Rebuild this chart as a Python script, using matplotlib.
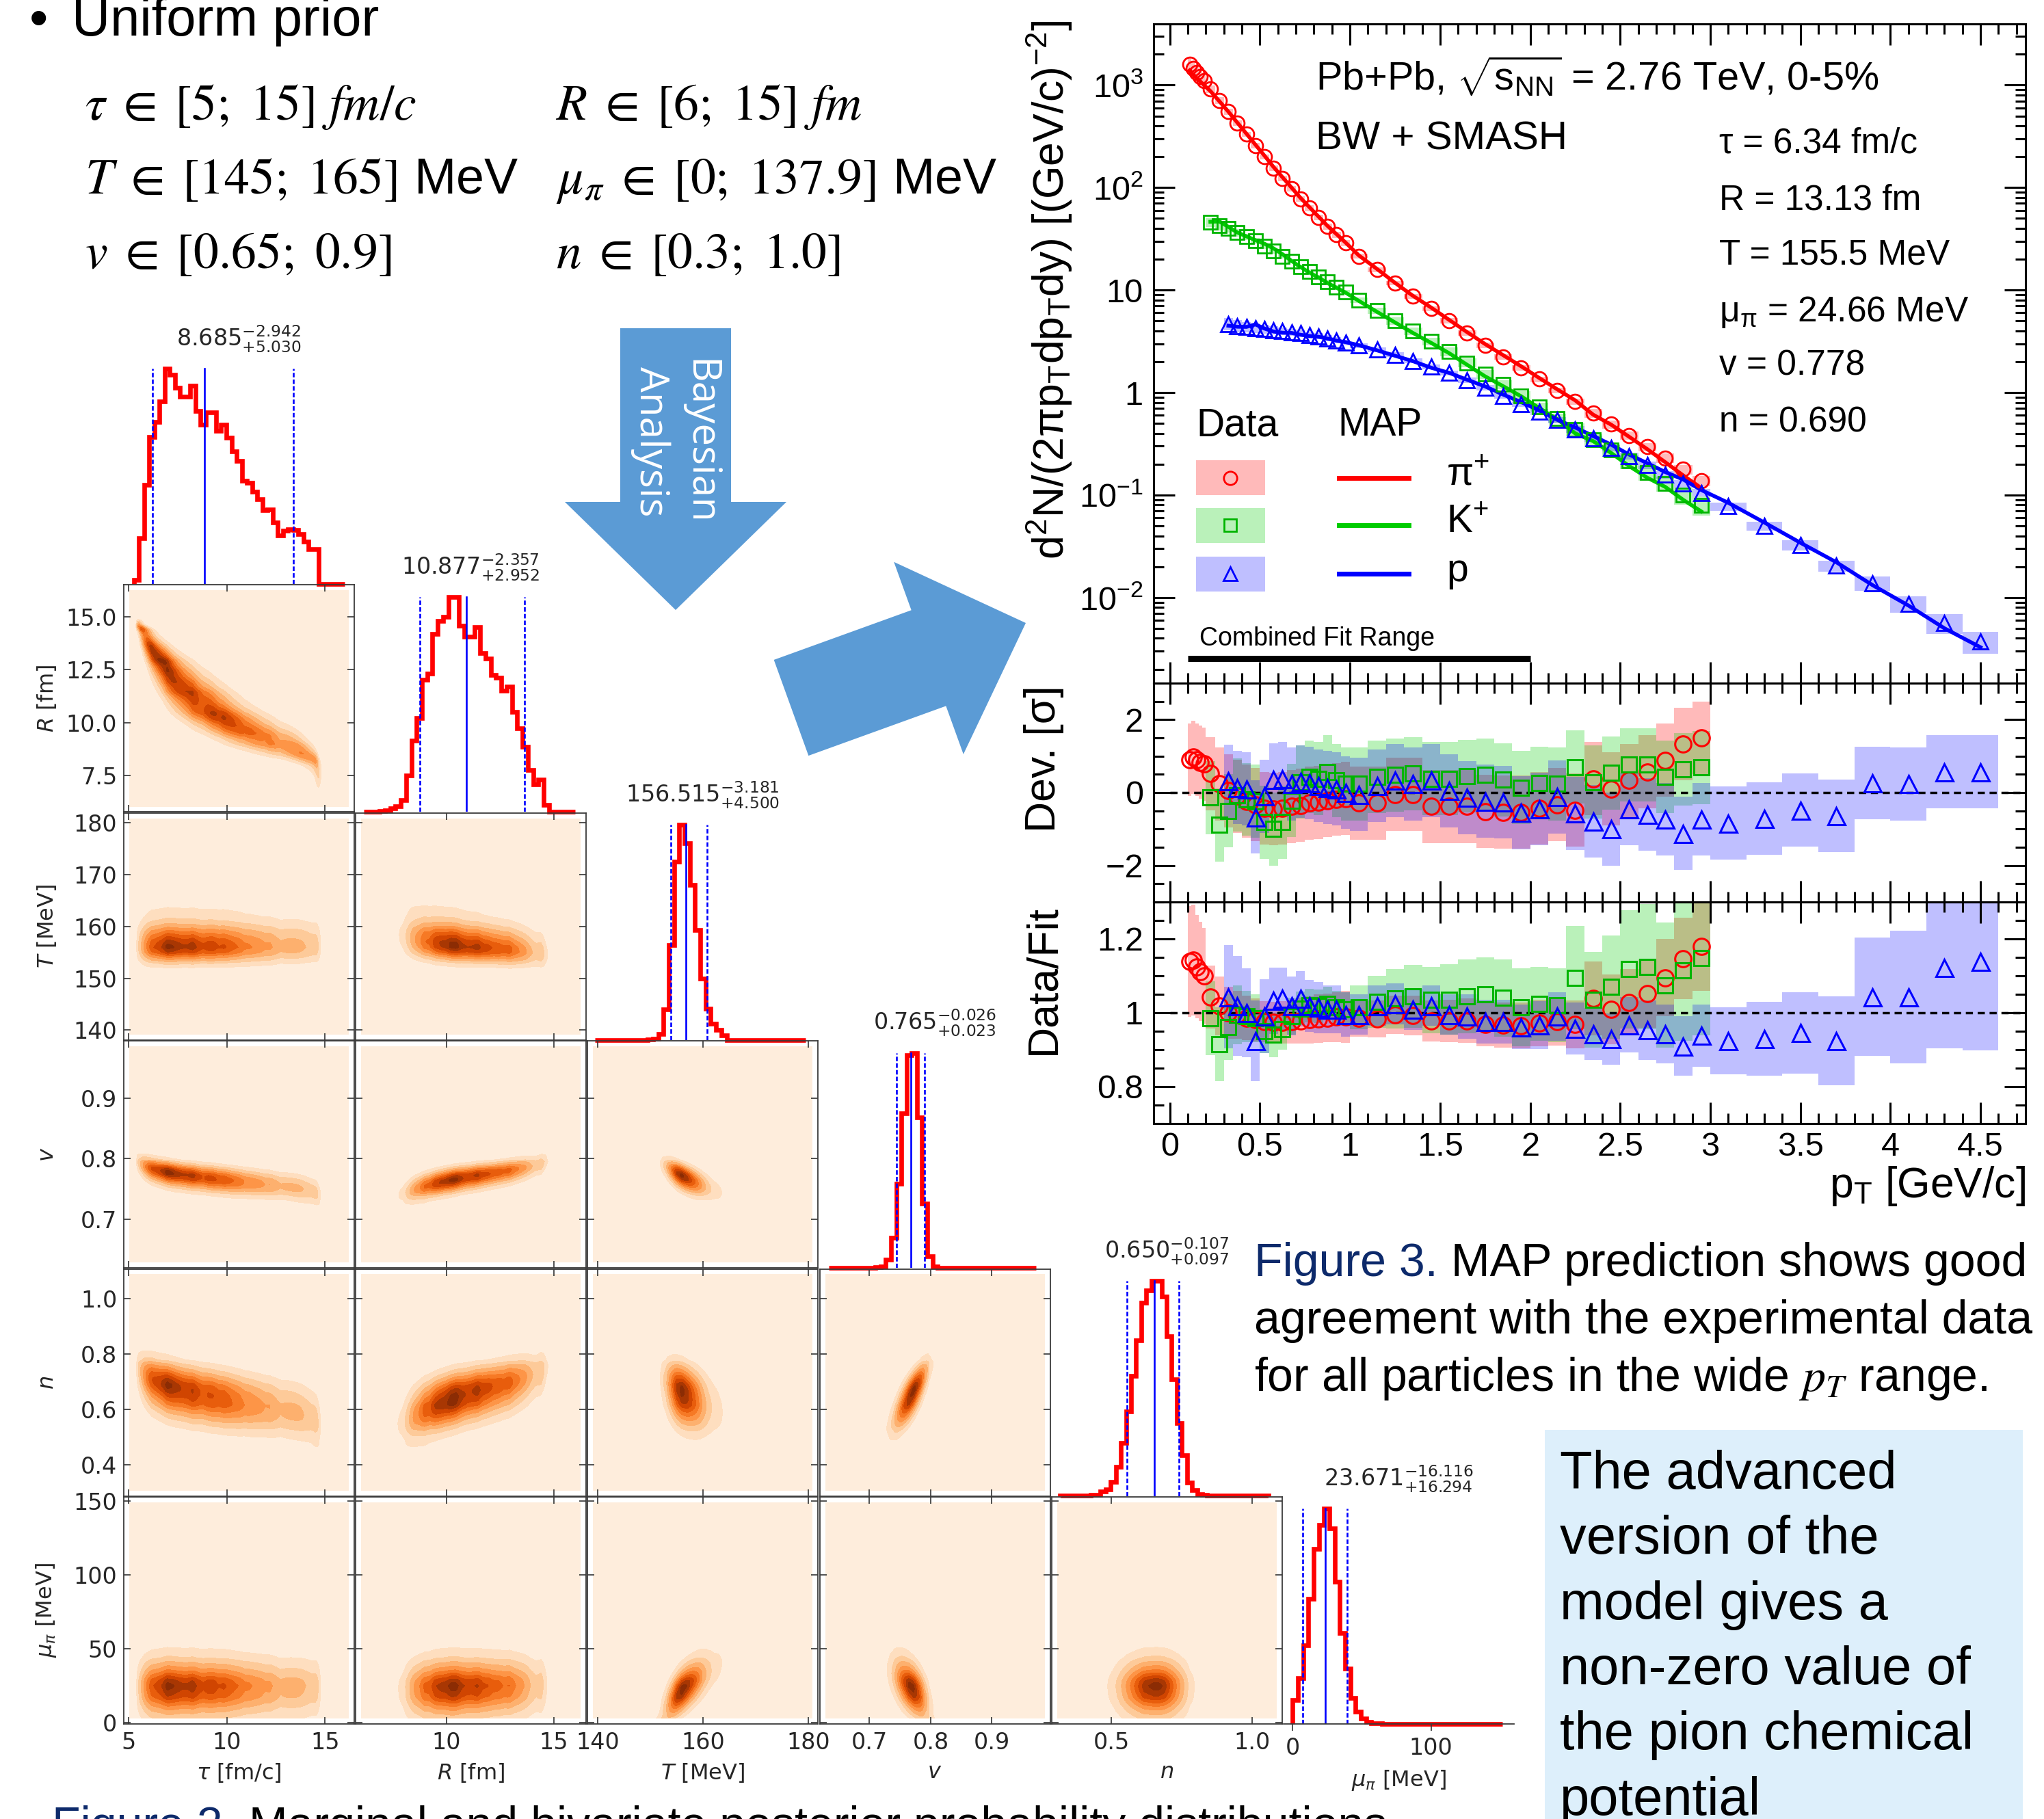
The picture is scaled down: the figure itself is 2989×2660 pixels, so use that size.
import numpy as np
import matplotlib.pyplot as plt
from matplotlib.patches import Rectangle, FancyArrow
from matplotlib.ticker import MultipleLocator, LogLocator, NullFormatter, FuncFormatter

W, H = 2989, 2660
plt.rcParams['font.family'] = ['Liberation Sans', 'DejaVu Sans']
plt.rcParams['mathtext.fontset'] = 'custom'
plt.rcParams['mathtext.rm'] = 'Liberation Sans'
plt.rcParams['mathtext.it'] = 'Liberation Sans:italic'
plt.rcParams['mathtext.bf'] = 'Liberation Sans:bold'
plt.rcParams['mathtext.sf'] = 'Liberation Sans'

# ---------------- corner plot (posterior) data ----------------
par_labels = [r'$\tau$ [fm/c]', r'$R$ [fm]', r'$T$ [MeV]', r'$v$', r'$n$', r'$\mu_\pi$ [MeV]']
hist_lo = [5.25, 6.15, 139.5, 0.634, 0.3167, 0.0]
hist_hi = [16.0, 16.0, 179.5, 0.972, 1.058, 151.8]
tau_hist = [12, 132, 285, 422, 464, 524, 617, 600, 562, 537, 537, 569, 497, 457, 492, 492,
            440, 457, 419, 380, 352, 297, 290, 264, 244, 212, 214, 177, 140, 152, 157, 154,
            144, 122, 100, 100, 0, 0, 0, 0, 0]
R_hist = [0, 0, 0, 3, 5, 10, 17, 35, 105, 205, 270, 380, 397, 510, 547, 560, 617, 617, 535, 503,
          503, 530, 455, 440, 392, 385, 347, 360, 287, 240, 187, 120, 80, 93, 20, 0, 0, 0, 0, 0]
T_hist = [0, 0, 0, 0, 0, 0, 0, 0, 0, 0, 2, 5, 25, 135, 415, 780, 942, 862, 680, 480,
          270, 138, 70, 45, 20, 0, 0, 0, 0, 0, 0, 0, 0, 0, 0, 0, 0, 0, 0, 0]
v_hist = [0, 0, 0, 0, 0, 0, 0, 1, 1, 3, 8, 38, 133, 370, 680, 936, 946, 663, 283, 53,
          8, 0, 0, 0, 0, 0, 0, 0, 0, 0, 0, 0, 0, 0, 0, 0, 0, 0, 0, 0]
n_hist = [2, 2, 2, 2, 2, 2, 4, 4, 20, 30, 62, 127, 234, 372, 527, 684, 850, 904, 947, 947,
          877, 704, 512, 322, 180, 60, 27, 9, 4, 2, 2, 2, 2, 2, 2, 2, 2, 2, 2, 2, 2]
mu_hist = [105, 200, 345, 550, 770, 875, 945, 860, 625, 400, 242, 115, 55, 25, 10, 4, 2, 1, 0, 0,
           0, 0, 0, 0, 0, 0, 0, 0, 0, 0, 0, 0, 0, 0, 0, 0, 0, 0, 0, 0]
hists = [tau_hist, R_hist, T_hist, v_hist, n_hist, mu_hist]
quantiles = [[6.19, 8.86, 13.4], [8.76, 10.94, 13.63], [153.9, 156.7, 160.85],
             [0.7449, 0.7682, 0.790], [0.5555, 0.6527, 0.740], [7.4, 23.5, 39.6]]
titles = [r'$8.685_{+5.030}^{-2.942}$', r'$10.877_{+2.952}^{-2.357}$', r'$156.515_{+4.500}^{-3.181}$',
          r'$0.765_{+0.023}^{-0.026}$', r'$0.650_{+0.097}^{-0.107}$', r'$23.671_{+16.294}^{-16.116}$']
# correlations in normal-score space, order tau, R, T, v, n, mu
corr = [[1.00, -0.93, 0.00, -0.65, -0.55, 0.00],
        [-0.93, 1.00, -0.30, 0.70, 0.60, 0.05],
        [0.00, -0.30, 1.00, -0.65, -0.35, 0.65],
        [-0.65, 0.70, -0.65, 1.00, 0.78, -0.50],
        [-0.55, 0.60, -0.35, 0.78, 1.00, 0.00],
        [0.00, 0.05, 0.65, -0.50, 0.00, 1.00]]
lims = [(4.74, 16.49), (5.78, 16.5), (138.1, 181.9), (0.619, 0.995), (0.287, 1.107), (-1.0, 152.6)]
mu_hist_xlim = (-6.6, 160)
xticks = [[5, 10, 15], [10, 15], [140, 160, 180], [0.7, 0.8, 0.9], [0.5, 1.0], [0, 100]]
xticklabels = [['5', '10', '15'], ['10', '15'], ['140', '160', '180'], ['0.7', '0.8', '0.9'],
               ['0.5', '1.0'], ['0', '100']]
yticks = [[], [7.5, 10, 12.5, 15], [140, 150, 160, 170, 180], [0.7, 0.8, 0.9],
          [0.4, 0.6, 0.8, 1.0], [0, 50, 100, 150]]
yticklabels = [[], ['7.5', '10.0', '12.5', '15.0'], ['140', '150', '160', '170', '180'],
               ['0.7', '0.8', '0.9'], ['0.4', '0.6', '0.8', '1.0'], ['0', '50', '100', '150']]

# ---------------- spectra data (Pb+Pb 2.76 TeV, 0-5%) ----------------
pt_edges = [0.10, 0.12, 0.14, 0.16, 0.18, 0.20, 0.25, 0.30, 0.35, 0.40, 0.45, 0.50, 0.55, 0.60,
            0.65, 0.70, 0.75, 0.80, 0.85, 0.90, 0.95, 1.0, 1.1, 1.2, 1.3, 1.4, 1.5, 1.6, 1.7, 1.8,
            1.9, 2.0, 2.1, 2.2, 2.3, 2.4, 2.5, 2.6, 2.7, 2.8, 2.9, 3.0, 3.2, 3.4, 3.6, 3.8, 4.0,
            4.2, 4.4, 4.6]
pi_yield = [1585, 1445, 1318, 1202, 1096, 912, 708, 550, 427, 331, 257, 200, 155, 123, 97.7, 77.6,
            63.1, 51.3, 41.7, 34.7, 28.8, 21.4, 15.8, 11.7, 8.71, 6.61, 5.01, 3.80, 2.88, 2.24,
            1.74, 1.35, 1.05, 0.813, 0.631, 0.490, 0.380, 0.295, 0.229, 0.178, 0.138]
pi_ratio = [1.139, 1.142, 1.125, 1.112, 1.10, 1.043, 1.019, 1.0, 0.995, 0.986, 0.981, 0.976, 0.974,
            0.974, 0.976, 0.978, 0.981, 0.984, 0.986, 0.988, 0.989, 0.986, 0.984, 0.995, 0.993,
            0.978, 0.978, 0.978, 0.969, 0.967, 0.965, 0.972, 0.976, 0.969, 1.038, 1.009, 1.028,
            1.052, 1.095, 1.147, 1.18]
pi_dev = [0.90, 0.97, 0.90, 0.83, 0.78, 0.52, 0.24, 0.05, -0.10, -0.24, -0.33, -0.43, -0.45, -0.43,
          -0.38, -0.35, -0.29, -0.27, -0.22, -0.19, -0.16, -0.29, -0.29, -0.05, -0.05, -0.38, -0.38,
          -0.38, -0.52, -0.54, -0.54, -0.43, -0.33, -0.48, 0.38, 0.10, 0.33, 0.57, 0.89, 1.33, 1.50]
pi_err = [0.15, 0.15, 0.14, 0.135, 0.13, 0.085, 0.08, 0.07, 0.065, 0.06, 0.058, 0.056, 0.056, 0.058,
          0.06, 0.062, 0.064, 0.066, 0.066, 0.068, 0.07, 0.05, 0.05, 0.052, 0.054, 0.056, 0.058,
          0.06, 0.06, 0.061, 0.062, 0.063, 0.064, 0.065, 0.10, 0.095, 0.09, 0.092, 0.105, 0.11, 0.12]
k_yield = [45.7, 42.7, 39.8, 36.3, 33.1, 30.2, 26.9, 24.0, 21.4, 19.1, 17.0, 15.1, 13.5, 12.0, 10.7,
           9.55, 7.94, 6.31, 5.01, 3.98, 3.16, 2.51, 1.95, 1.51, 1.20, 0.933, 0.724, 0.562, 0.437,
           0.347, 0.275, 0.214, 0.166, 0.129, 0.100, 0.0794]
k_ratio = [0.985, 0.915, 0.962, 0.995, 0.99, 0.985, 0.95, 0.94, 0.955, 0.99, 1.012, 1.02, 1.018,
           1.025, 1.015, 1.01, 1.015, 1.03, 1.038, 1.045, 1.035, 1.036, 1.045, 1.05, 1.04, 1.015,
           1.025, 1.02, 1.095, 1.035, 1.07, 1.118, 1.125, 1.075, 1.115, 1.148]
k_dev = [-0.14, -0.89, -0.50, -0.07, -0.19, -0.24, -0.81, -1.0, -0.81, -0.22, 0.29, 0.43, 0.38, 0.57,
         0.33, 0.24, 0.24, 0.43, 0.48, 0.52, 0.38, 0.38, 0.45, 0.48, 0.35, 0.14, 0.26, 0.24, 0.70,
         0.29, 0.54, 0.76, 0.76, 0.43, 0.64, 0.69]
k_err = [0.10, 0.10, 0.09, 0.08, 0.07, 0.065, 0.06, 0.06, 0.055, 0.05, 0.045, 0.045, 0.045, 0.045,
         0.045, 0.045, 0.06, 0.07, 0.08, 0.085, 0.09, 0.095, 0.10, 0.10, 0.105, 0.105, 0.10, 0.10,
         0.14, 0.13, 0.14, 0.16, 0.17, 0.17, 0.19, 0.21]
p_yield = [4.68, 4.47, 4.37, 4.27, 4.17, 4.07, 3.98, 3.89, 3.80, 3.63, 3.55, 3.39, 3.24, 3.09, 2.88,
           2.63, 2.34, 2.04, 1.78, 1.55, 1.32, 1.12, 0.933, 0.776, 0.646, 0.537, 0.437, 0.355,
           0.288, 0.240, 0.195, 0.158, 0.129, 0.105, 0.0776, 0.0501, 0.0324, 0.0204, 0.0138,
           0.00871, 0.00562, 0.00372]
p_ratio = [1.043, 1.019, 1.0, 0.924, 0.99, 1.033, 1.038, 1.019, 1.038, 1.019, 1.014, 1.009, 1.009,
           0.995, 0.995, 1.019, 1.024, 1.009, 1.019, 0.995, 0.99, 0.976, 0.976, 0.962, 0.967, 0.99,
           0.957, 0.943, 0.929, 0.967, 0.953, 0.943, 0.91, 0.938, 0.924, 0.929, 0.946, 0.924,
           1.043, 1.043, 1.123, 1.138]
p_dev = [0.31, 0.14, 0.10, -0.67, -0.10, 0.35, 0.38, 0.24, 0.30, 0.26, 0.19, 0.14, 0.10, 0.0, -0.05,
         0.19, 0.33, 0.24, 0.33, 0.05, -0.14, -0.24, -0.26, -0.55, -0.45, -0.12, -0.57, -0.79, -1.0,
         -0.45, -0.60, -0.73, -1.12, -0.73, -0.84, -0.71, -0.48, -0.64, 0.26, 0.24, 0.57, 0.57]
p_err = [0.14, 0.135, 0.12, 0.11, 0.10, 0.09, 0.085, 0.08, 0.075, 0.07, 0.07, 0.065, 0.065, 0.06,
         0.055, 0.055, 0.055, 0.055, 0.055, 0.055, 0.06, 0.06, 0.06, 0.06, 0.065, 0.065, 0.07, 0.07,
         0.07, 0.075, 0.08, 0.08, 0.08, 0.085, 0.09, 0.10, 0.11, 0.12, 0.16, 0.18, 0.22, 0.24]
fit_range = [0.1, 2.0]
map_params = ['τ = 6.34 fm/c', 'R = 13.13 fm', 'T = 155.5 MeV',
              r'$\mathrm{\mu}_{\mathrm{\pi}}$ = 24.66 MeV', 'v = 0.778', 'n = 0.690']

fig = plt.figure(figsize=(W / 100, H / 100), dpi=100)
ov = fig.add_axes([0, 0, 1, 1])
ov.set_xlim(0, W)
ov.set_ylim(H, 0)
ov.axis('off')
ov.set_zorder(-5)


def axes_px(x0, y0, x1, y1):
    a = fig.add_axes([x0 / W, 1 - y1 / H, (x1 - x0) / W, (y1 - y0) / H])
    a.patch.set_visible(False)
    return a


# ---------------- corner plot ----------------
zz = np.linspace(-5, 5, 2001)
phi_cdf = np.cumsum(np.exp(-0.5 * zz ** 2))
phi_cdf = phi_cdf / phi_cdf[-1]


def marginal(k, g):
    e = np.linspace(hist_lo[k], hist_hi[k], len(hists[k]) + 1)
    c = 0.5 * (e[1:] + e[:-1])
    return np.interp(g, c, hists[k], left=0, right=0)


def density(kx, ky, gx, gy):
    fx = marginal(kx, gx)
    fy = marginal(ky, gy)
    ux = np.clip((np.cumsum(fx) - 0.5 * fx) / fx.sum(), 1e-3, 1 - 1e-3)
    uy = np.clip((np.cumsum(fy) - 0.5 * fy) / fy.sum(), 1e-3, 1 - 1e-3)
    a = np.interp(ux, phi_cdf, zz)
    b = np.interp(uy, phi_cdf, zz)
    r = corr[kx][ky]
    A, B = np.meshgrid(a, b)
    c = np.exp(-(r * r * (A ** 2 + B ** 2) - 2 * r * A * B) / (2 * (1 - r * r))) / np.sqrt(1 - r * r)
    return c * np.outer(fy, fx)


level_frac = np.array([0.0, 0.03, 0.1, 0.2, 0.32, 0.45, 0.58, 0.71, 0.84, 0.95, 1.001])
band_cols = [plt.cm.Oranges(v) for v in [0.07, 0.17, 0.27, 0.37, 0.47, 0.57, 0.67, 0.77, 0.87, 0.96]]
tcol = '#262626'
col_x0, col_pitch, cell_w = 181, 339.2, 337
row_y0, row_pitch, cell_h = 522, 333.4, 332

for i in range(6):
    for j in range(i + 1):
        x0 = col_x0 + j * col_pitch
        y0 = row_y0 + i * row_pitch
        ax = axes_px(x0, y0, x0 + cell_w, y0 + cell_h)
        if i == j:
            e = np.linspace(hist_lo[i], hist_hi[i], len(hists[i]) + 1)
            hmax = max(hists[i])
            ax.stairs(hists[i], e, color='red', lw=4.8, clip_on=False)
            q = quantiles[i]
            ax.plot([q[0], q[0]], [0, hmax], color='blue', lw=1.9, ls=(0, (2.5, 1.2)))
            ax.plot([q[1], q[1]], [0, hmax], color='blue', lw=1.9)
            ax.plot([q[2], q[2]], [0, hmax], color='blue', lw=1.9, ls=(0, (2.5, 1.2)))
            ax.set_ylim(0, hmax * 1.055)
            ax.set_yticks([])
            for s in ['top', 'left', 'right']:
                ax.spines[s].set_visible(False)
            ax.set_title(titles[i], fontsize=24, pad=11, color=tcol, family='DejaVu Sans',
                         math_fontfamily='dejavusans')
            if i < 5:
                ax.set_xlim(lims[i])
                ax.spines['bottom'].set_visible(False)
                ax.set_xticks([])
            else:
                ax.set_xlim(mu_hist_xlim)
                ax.spines['bottom'].set_color('#3a3a3a')
                ax.spines['bottom'].set_linewidth(1.3)
                ax.set_xticks(xticks[i])
                ax.set_xticklabels(xticklabels[i], family='DejaVu Sans')
                ax.tick_params(axis='x', direction='out', length=7, width=1.2, color='#333333',
                               labelsize=24, labelcolor=tcol, pad=7)
                ax.set_xlabel(par_labels[i], fontsize=23, color=tcol, family='DejaVu Sans',
                              math_fontfamily='dejavusans')
                ax.xaxis.set_label_coords(0.5, -0.196)
            continue
        xl, yl = lims[j], lims[i]
        gx = np.linspace(xl[0] + 0.025 * (xl[1] - xl[0]), xl[1] - 0.025 * (xl[1] - xl[0]), 140)
        gy = np.linspace(yl[0] + 0.025 * (yl[1] - yl[0]), yl[1] - 0.025 * (yl[1] - yl[0]), 140)
        Z = density(j, i, gx, gy)
        ax.contourf(gx, gy, Z, levels=Z.max() * level_frac, colors=band_cols)
        ax.set_xlim(xl)
        ax.set_ylim(yl)
        ax.set_xticks(xticks[j])
        ax.set_yticks(yticks[i])
        ax.set_xticklabels(xticklabels[j], family='DejaVu Sans')
        ax.set_yticklabels(yticklabels[i], family='DejaVu Sans')
        for s in ax.spines.values():
            s.set_color('#3a3a3a')
            s.set_linewidth(1.3)
        ax.tick_params(which='both', direction='in', top=True, right=True, length=7, width=1.2,
                       color='#333333', labelsize=24, labelcolor=tcol,
                       labelleft=(j == 0), labelbottom=(i == 5))
        ax.tick_params(axis='x', pad=8)
        ax.tick_params(axis='y', pad=7)
        if i == 5:
            ax.set_xlabel(par_labels[j], fontsize=23, color=tcol, family='DejaVu Sans',
                          math_fontfamily='dejavusans')
            ax.xaxis.set_label_coords(0.5, -0.166)
        if j == 0:
            ax.set_ylabel(par_labels[i], fontsize=23, color=tcol, family='DejaVu Sans',
                          math_fontfamily='dejavusans')
            ax.yaxis.set_label_coords(-0.285, 0.5)

# ---------------- spectra, deviation and ratio panels ----------------
ax_sp = axes_px(1687, 35, 2962, 999)
ax_dev = axes_px(1687, 999, 2962, 1319)
ax_rat = axes_px(1687, 1319, 2962, 1643)

species = [
    (pt_edges[0:42], pi_yield, pi_ratio, pi_dev, pi_err, 'o', '#ff0000', '#ff0000', (1, 0, 0, 0.27), 15),
    (pt_edges[5:42], k_yield, k_ratio, k_dev, k_err, 's', '#00b400', '#00cc00', (0, 0.8, 0, 0.27), 14),
    (pt_edges[7:], p_yield, p_ratio, p_dev, p_err, '^', '#0000ff', '#0000ff', (0, 0, 1, 0.25), 16),
]
for edges, yld, rat, dev, err, mk, mcol, lcol, bcol, ms in species:
    e = np.array(edges)
    c = 0.5 * (e[1:] + e[:-1])
    w = np.diff(e)
    yld, rat, dev, err = map(np.array, (yld, rat, dev, err))
    ax_sp.bar(c, 2 * err * yld, bottom=yld * (1 - err), width=w, color=bcol, lw=0, zorder=1)
    ax_sp.plot(c, yld / rat, color=lcol, lw=4, zorder=2)
    ax_sp.plot(c, yld, ls='none', marker=mk, ms=ms, mfc='none', mec=mcol, mew=2, zorder=3)
    ax_dev.bar(c, 2.0, bottom=dev - 1, width=w, color=bcol, lw=0, zorder=1)
    ax_dev.plot(c, dev, ls='none', marker=mk, ms=ms + 2, mfc='none', mec=mcol, mew=2.2, zorder=3)
    ax_rat.bar(c, 2 * err, bottom=rat - err, width=w, color=bcol, lw=0, zorder=1)
    ax_rat.plot(c, rat, ls='none', marker=mk, ms=ms + 2, mfc='none', mec=mcol, mew=2.2, zorder=3)

ax_dev.plot([0, 4.75], [0, 0], color='black', lw=2.5, ls=(0, (3, 2)), zorder=2)
ax_rat.plot([0, 4.75], [1, 1], color='black', lw=2.5, ls=(0, (3, 2)), zorder=2)

for a in (ax_sp, ax_dev, ax_rat):
    a.set_xlim(-0.09, 4.75)
    for s in a.spines.values():
        s.set_linewidth(2.2)
    a.xaxis.set_major_locator(MultipleLocator(0.5))
    a.xaxis.set_minor_locator(MultipleLocator(0.1))
    a.tick_params(which='both', direction='in', top=True, right=True, width=2.2, labelsize=35,
                  labelbottom=False)
    a.tick_params(which='major', length=22)
    a.tick_params(which='minor', length=11)
    a.tick_params(axis='y', pad=11)

ax_sp.set_yscale('log')
ax_sp.set_ylim(1.46e-3, 3.95e3)
ax_sp.set_yticks([1e-2, 1e-1, 1, 10, 1e2, 1e3],
                 labels=[r'$10^{-2}$', r'$10^{-1}$', '1', '10', r'$10^{2}$', r'$10^{3}$'])
ax_sp.yaxis.set_minor_locator(LogLocator(base=10, subs=np.arange(2, 10) * 1.0, numticks=50))
ax_sp.yaxis.set_minor_formatter(NullFormatter())

ax_dev.set_ylim(-3, 3)
ax_dev.set_yticks([-2, 0, 2], labels=['\u22122', '0', '2'])
ax_dev.yaxis.set_minor_locator(MultipleLocator(0.5))

ax_rat.set_ylim(0.7, 1.3)
ax_rat.set_yticks([0.8, 1.0, 1.2], labels=['0.8', '1', '1.2'])
ax_rat.yaxis.set_minor_locator(MultipleLocator(0.05))
ax_rat.tick_params(axis='x', labelbottom=True, pad=9)
ax_rat.xaxis.set_major_formatter(FuncFormatter(lambda v, p: f'{v:g}'))

# texts and legend inside the spectrum panel
tr = ax_sp.transAxes
ax_sp.text(0.186, 0.9205, r'Pb+Pb, $\sqrt{\mathrm{s}_{\mathrm{NN}}}$ = 2.76 TeV, 0-5%', transform=tr,
           fontsize=41.5, va='center')
ax_sp.text(0.186, 0.825, 'BW + SMASH', transform=tr, fontsize=42, va='center')
for txt, fy in zip(map_params, [0.818, 0.732, 0.649, 0.563, 0.481, 0.395]):
    ax_sp.text(0.649, fy, txt, transform=tr, fontsize=37, va='center')
ax_sp.text(0.049, 0.391, 'Data', transform=tr, fontsize=41, va='center')
ax_sp.text(0.211, 0.391, 'MAP', transform=tr, fontsize=41, va='center')
leg_names = [r'$\mathrm{\pi}^{+}$', r'K$^{+}$', 'p']
for (edges, yld, rat, dev, err, mk, mcol, lcol, bcol, ms), fy, name in zip(
        species, [0.3115, 0.2395, 0.1655], leg_names):
    ax_sp.add_patch(Rectangle((0.049, fy - 0.0265), 0.079, 0.053, transform=tr, color=bcol, lw=0))
    ax_sp.plot([0.088], [fy], transform=tr, marker=mk, ms=ms - 1, mfc='none', mec=mcol, mew=2,
               clip_on=False)
    ax_sp.plot([0.2125, 0.2925], [fy, fy], transform=tr, color=lcol, lw=5)
    ax_sp.text(0.336, fy + 0.005, name, transform=tr, fontsize=41, va='center')
ax_sp.text(0.0525, 0.0675, 'Combined Fit Range', transform=tr, fontsize=27, va='center')
ax_sp.plot(fit_range, [2.54e-3, 2.54e-3], color='black', lw=6.5, solid_capstyle='butt')

ov.text(1535, 424, r'd$^{2}$N/(2$\mathrm{\pi}$p$_{\mathrm{T}}$dp$_{\mathrm{T}}$dy) [(GeV/c)$^{-2}$]',
        fontsize=45, rotation=90, ha='center', va='center')
ov.text(1526, 1110, 'Dev. [σ]', fontsize=45, rotation=90, ha='center', va='center')
ov.text(1526, 1433, 'Data/Fit', fontsize=45, rotation=90, ha='center', va='center')
ov.text(2962, 1735, r'p$_{\mathrm{T}}$ [GeV/c]', fontsize=45, ha='right', va='center')

# ---------------- poster annotations ----------------
ov.text(43, 52, '•', fontsize=56, va='baseline')
ov.text(105, 52, 'Uniform prior', fontsize=56, va='baseline')
prior_txt = [(124, 175, r'$\tau \;\in\; [5;\ 15]\ fm/c$'), (813, 175, r'$R \;\in\; [6;\ 15]\ fm$'),
             (124, 283, r'$T \;\in\; [145;\ 165]$ MeV'), (813, 283, r'$\mu_\pi \;\in\; [0;\ 137.9]$ MeV'),
             (124, 392, r'$v \;\in\; [0.65;\ 0.9]$'), (813, 392, r'$n \;\in\; [0.3;\ 1.0]$')]
for x, y, s in prior_txt:
    ov.text(x, y, s, fontsize=53, va='baseline', math_fontfamily='stix')

arrow_col = '#5b9bd5'
ov.add_patch(FancyArrow(988, 480, 0, 412, width=162, head_width=324, head_length=158,
                        length_includes_head=True, color=arrow_col, lw=0))
ov.add_patch(FancyArrow(1157, 1035, 343, -124, width=149, head_width=299, head_length=151,
                        length_includes_head=True, color=arrow_col, lw=0))
ov.text(987, 646, 'Bayesian\nAnalysis', fontsize=42, color='white', rotation=-90, ha='center',
        va='center', multialignment='center', linespacing=1.3, family='Open Sans')

navy = '#0d2a6b'
t1 = ov.text(1834, 1866, 'Figure 3.', fontsize=49, color=navy, va='baseline')
ov.annotate(' MAP prediction shows good', xy=(1, 0), xycoords=t1, fontsize=49, va='bottom', ha='left')
ov.text(1834, 1950, 'agreement with the experimental data', fontsize=49, va='baseline')
ov.text(1834, 2034, r'for all particles in the wide $p_T$ range.', fontsize=49, va='baseline',
        math_fontfamily='stix')

t2 = ov.text(76, 2690, 'Figure 2.', fontsize=49, color=navy, va='baseline', zorder=0.5)
ov.annotate(' Marginal and bivariate posterior probability distributions', xy=(1, 0), xycoords=t2,
            fontsize=49, va='bottom', ha='left', zorder=0.5)

ov.add_patch(Rectangle((2259, 2091), 699, 620, facecolor='#ddeffb', edgecolor='none', zorder=1))
box_lines = ['The advanced', 'version of the', 'model gives a', 'non-zero value of',
             'the pion chemical', 'potential']
for k, s in enumerate(box_lines):
    ov.text(2281, 2177 + 95.3 * k, s, fontsize=56, va='baseline', zorder=2)

fig.savefig('out.png', dpi=100)
